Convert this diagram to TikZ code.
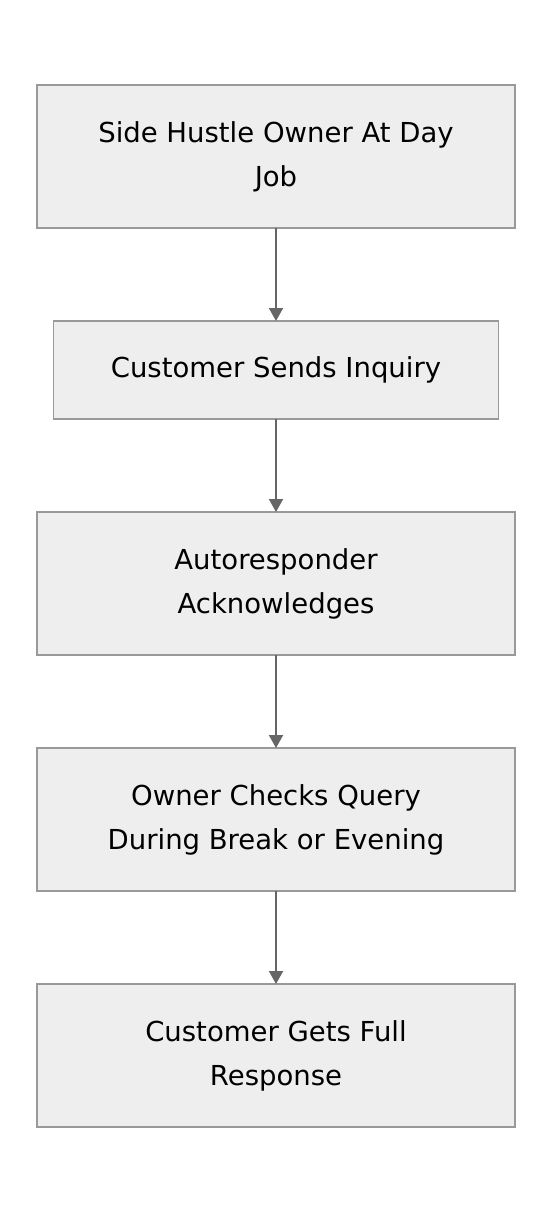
\documentclass[tikz,border=0pt]{standalone}
\usepackage{fontspec}
\setmainfont{DejaVu Sans}
\usetikzlibrary{positioning,arrows.meta}
\definecolor{boxfill}{HTML}{EEEEEE}
\definecolor{boxline}{HTML}{999999}
\definecolor{flowline}{HTML}{666666}
\tikzset{
  stepbox/.style={draw=boxline,fill=boxfill,line width=1.3pt,minimum width=478pt,minimum height=143pt,align=center,font=\fontsize{27.5}{44}\selectfont,inner sep=0pt,outer sep=0pt},
  flow/.style={draw=flowline,line width=2pt,-{Triangle[width=14pt,length=13pt]}}
}
\begin{document}
\begin{tikzpicture}[x=1pt,y=-1pt,node distance=93pt]

\useasboundingbox (0,0) rectangle (552,1212);

\node [stepbox] (owner) at (276,156.5) {Side Hustle Owner At Day\\Job};
\node [stepbox,below=of owner,minimum width=445pt,minimum height=98pt] (inquiry) {Customer Sends Inquiry};
\node [stepbox,below=of inquiry] (auto) {Autoresponder\\Acknowledges};
\node [stepbox,below=of auto] (checks) {Owner Checks Query\\During Break or Evening};
\node [stepbox,below=of checks] (response) {Customer Gets Full\\Response};

\draw [flow] (owner) -- (inquiry);
\draw [flow] (inquiry) -- (auto);
\draw [flow] (auto) -- (checks);
\draw [flow] (checks) -- (response);

\end{tikzpicture}
\end{document}
